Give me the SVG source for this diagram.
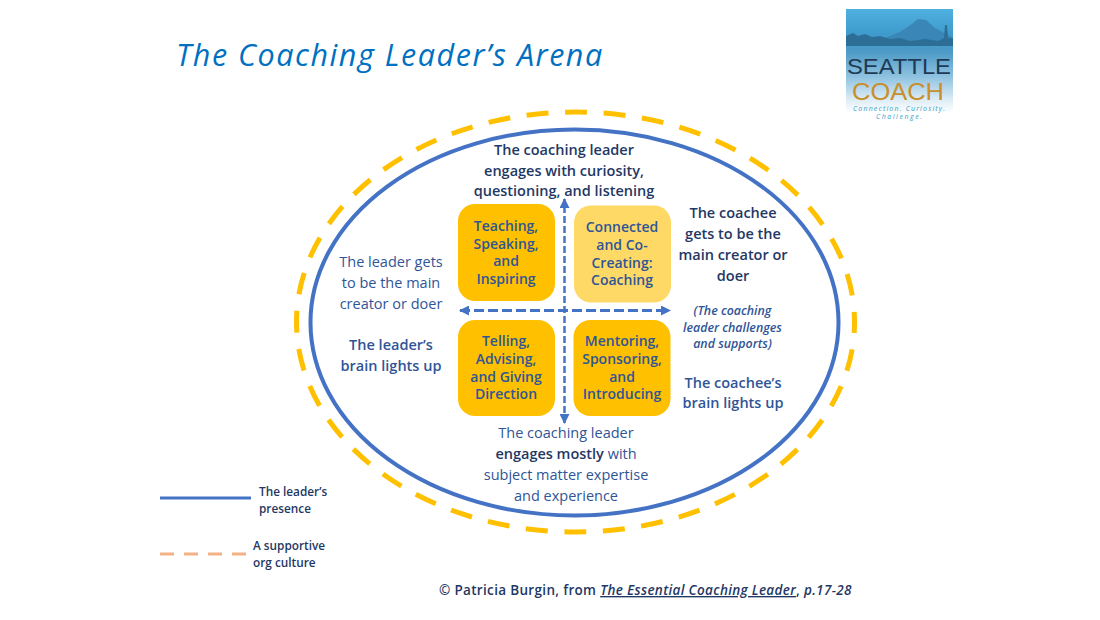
<svg xmlns="http://www.w3.org/2000/svg" width="1100" height="620" viewBox="0 0 1100 620">
<style>
text{font-family:"Open Sans","Noto Sans","Liberation Sans",sans-serif;text-anchor:middle}
.b{font-weight:600;fill:#1f3864;font-size:14.5px}
.m{fill:#2f5597;font-size:14.5px}
.mb{fill:#2f5597;font-size:14.5px;font-weight:600}
.q{fill:#2f5597;font-size:14px;font-weight:600}
.l{font-weight:600;fill:#1f3864;font-size:11.8px;text-anchor:start}
.i{fill:#2f5597;font-size:12.4px;font-weight:600;font-style:italic}
.box{fill:#ffc000}
</style>
<defs>
<linearGradient id="sky" x1="0" y1="0" x2="0" y2="1">
<stop offset="0" stop-color="#4fb0de"/><stop offset=".22" stop-color="#3f9bcd"/><stop offset=".38" stop-color="#4d9ac6"/><stop offset=".6" stop-color="#8fc2e0"/><stop offset=".8" stop-color="#dcecf6"/><stop offset=".92" stop-color="#ffffff"/>
</linearGradient>
<marker id="ah" viewBox="0 0 10 10" refX="9" refY="5" markerWidth="10" markerHeight="10" markerUnits="userSpaceOnUse" orient="auto-start-reverse"><path d="M0 0L10 5L0 10Z" fill="#4472c4"/></marker>
</defs>
<rect width="1100" height="620" fill="#fff"/>
<text id="title" x="176" y="66" style="text-anchor:start;font-size:30.500px;font-style:italic;fill:#0070c0;letter-spacing:1.55px">The Coaching Leader’s Arena</text>
<g id="logo">
<rect x="846" y="9" width="107" height="113" fill="url(#sky)"/>
<path d="M846 42L885 38L900 32L912 24L918 19L926 20L935 28L953 38V46H846Z" fill="#3a86b6"/>
<path d="M846 36L853 33L858 36L865 34L872 37L880 36L890 39L900 38L910 41L925 39L938 41L944 38L945 25L947 25L948 38L953 38V46H846Z" fill="#2d6e96"/>
<text x="899" y="74" style="font-size:22px;fill:#1f3a56;font-family:'Liberation Sans',sans-serif" textLength="104" lengthAdjust="spacingAndGlyphs">SEATTLE</text>
<text x="898" y="100" style="font-size:24px;fill:#c98f2a;font-family:'Liberation Sans',sans-serif" textLength="92" lengthAdjust="spacingAndGlyphs">COACH</text>
<text x="899" y="111" style="font-size:7px;fill:#3a9fc4;font-style:italic" textLength="92">Connection. Curiosity.</text>
<text x="899" y="119" style="font-size:7px;fill:#3a9fc4;font-style:italic" textLength="46">Challenge.</text>
</g>
<g id="connectors" fill="none">
<ellipse id="culture-ring" cx="575.500" cy="322" rx="279" ry="210" stroke="#ffc000" stroke-width="5" stroke-dasharray="22 16.6" stroke-dashoffset="11"/>
<ellipse id="presence-ring" cx="574.500" cy="322.500" rx="264" ry="193" stroke="#4472c4" stroke-width="4"/>
<line x1="564.500" y1="423" x2="564.500" y2="199" stroke="#4472c4" stroke-width="2.500" stroke-dasharray="7 3" marker-start="url(#ah)" marker-end="url(#ah)"/>
<line x1="460" y1="310.500" x2="670" y2="310.500" stroke="#4472c4" stroke-width="3" stroke-dasharray="10 4" marker-start="url(#ah)" marker-end="url(#ah)"/>
</g>
<g id="node-teaching"><rect class="box" x="458" y="204" width="97" height="97" rx="17"/>
<text class="q" x="506" y="231">Teaching,</text><text class="q" x="506" y="249">Speaking,</text><text class="q" x="506" y="266">and</text><text class="q" x="506" y="284">Inspiring</text></g>
<g id="node-connected"><rect x="574" y="205.500" width="97" height="97" rx="17" fill="#ffd966"/>
<text class="q" x="622" y="232">Connected</text><text class="q" x="622" y="250">and Co-</text><text class="q" x="622" y="268">Creating:</text><text class="q" x="622" y="285">Coaching</text></g>
<g id="node-telling"><rect class="box" x="458" y="320" width="97" height="96" rx="17"/>
<text class="q" x="506" y="346">Telling,</text><text class="q" x="506" y="364">Advising,</text><text class="q" x="506" y="382">and Giving</text><text class="q" x="506" y="399">Direction</text></g>
<g id="node-mentoring"><rect class="box" x="573.500" y="320" width="97" height="96" rx="17"/>
<text class="q" x="622" y="346">Mentoring,</text><text class="q" x="622" y="364">Sponsoring,</text><text class="q" x="622" y="382">and</text><text class="q" x="622" y="399">Introducing</text></g>
<g id="label-top"><text class="b" x="564" y="155">The coaching leader</text><text class="b" x="564" y="176">engages with curiosity,</text><text class="b" x="564" y="196">questioning, and listening</text></g>
<g id="label-left"><text class="m" x="391" y="267">The leader gets</text><text class="m" x="391" y="288">to be the main</text><text class="m" x="391" y="309">creator or doer</text>
<text class="mb" x="391" y="350">The leader’s</text><text class="mb" x="391" y="371">brain lights up</text></g>
<g id="label-right"><text class="b" x="733" y="218">The coachee</text><text class="b" x="733" y="239">gets to be the</text><text class="b" x="733" y="260">main creator or</text><text class="b" x="733" y="281">doer</text>
<text class="i" x="732.500" y="315">(The coaching</text><text class="i" x="732.500" y="332">leader challenges</text><text class="i" x="732.500" y="348">and supports)</text>
<text class="mb" x="733" y="388">The coachee’s</text><text class="mb" x="733" y="408">brain lights up</text></g>
<g id="label-bottom"><text class="m" x="566" y="438">The coaching leader</text>
<text class="m" x="566" y="459"><tspan fill="#1f3864" font-weight="600">engages mostly</tspan> with</text><text class="m" x="566" y="480">subject matter expertise</text><text class="m" x="566" y="501">and experience</text></g>
<g id="legend">
<line x1="160" y1="498" x2="251" y2="498" stroke="#4472c4" stroke-width="3"/>
<line x1="160" y1="554" x2="246" y2="554" stroke="#f4b183" stroke-width="3" stroke-dasharray="14 10"/>
<text class="l" x="259" y="496">The leader’s</text><text class="l" x="259" y="513">presence</text>
<text class="l" x="253" y="550">A supportive</text><text class="l" x="253" y="567">org culture</text>
</g>
<text id="credit" x="439" y="595" style="text-anchor:start;font-size:13.500px;font-weight:600;fill:#1f3864;letter-spacing:.33px">© Patricia Burgin, from <tspan font-style="italic" text-decoration="underline">The Essential Coaching Leader</tspan>, <tspan font-style="italic">p.17-28</tspan></text>
</svg>
